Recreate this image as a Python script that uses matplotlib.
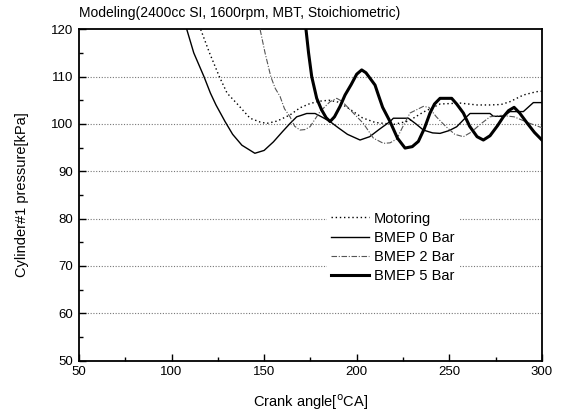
import numpy as np
import matplotlib
matplotlib.use('Agg')
import matplotlib.pyplot as plt
from matplotlib.ticker import MultipleLocator

plt.rcParams['font.family'] = ['Liberation Sans', 'DejaVu Sans']

# values (crank angle, pressure kPa)
motoring_ca = [112, 115.7, 120.5, 125.8, 130, 136, 142.4, 147.8, 151.4, 157, 164, 169.4,
               174.8, 180, 185, 190, 196, 203, 210, 220, 228, 236, 245, 255.8, 265, 272,
               278, 282.8, 290, 297, 300]
motoring_p = [125, 120, 115, 110, 106.5, 104, 101.2, 100.4, 100.1, 100.6, 101.9, 103.4,
              104.3, 104.8, 105, 104.6, 103.2, 101.3, 100.3, 99.9, 100.6, 102.5, 104.2, 104.4,
              104, 104, 104.1, 104.7, 106.1, 106.8, 106.9]

bmep0_ca = [104, 108.2, 112, 117.5, 121, 124, 128.9, 133, 138, 145, 150, 155, 160, 164,
            167.6, 170, 173, 177.5, 181, 185.6, 190, 195, 201.8, 207, 212, 218, 219.8,
            227.9, 232, 236, 241, 245, 250, 254, 258, 261.2, 272, 273.8, 279.2, 282.8, 290,
            295.4, 300]
bmep0_p = [126, 120, 115, 110, 106.5, 104, 100.5, 97.8, 95.5, 93.8, 94.4, 96.2, 98.4, 100.1,
           101.5, 101.8, 102.2, 102.2, 101.5, 100.5, 99.2, 97.8, 96.6, 97.3, 98.8, 100.5, 101.2,
           101.2, 100, 98.7, 98.1, 98.0, 98.6, 99.4, 101, 102.2, 102.2, 101.6, 101.6, 102.6, 102.6,
           104.5, 104.5]

bmep2_ca = [145, 147.8, 150.5, 153.6, 156, 158.6, 161, 164, 166.5, 169.4, 172, 174.8, 177.5,
            180.2, 185.6, 189.2, 192, 196.4, 203.6, 209, 214.4, 218, 221.6, 225, 228.8, 236,
            239, 243, 248, 253, 257.6, 262, 267, 272, 278, 285, 293.6, 300]
bmep2_p = [124, 120, 115, 110, 107.5, 105.8, 103.2, 101.5, 99.5, 98.7, 98.8, 99.4, 101,
           102.6, 104.7, 105.4, 104.8, 103, 100.1, 97, 95.9, 96, 96.8, 99.5, 102.3, 103.7,
           103.5, 101.5, 99.5, 97.8, 97.3, 98.3, 100, 101.5, 101.8, 101.5, 100.1, 99.2]

bmep5_ca = [171.8, 172.6, 174, 175.7, 178.4, 181, 183.5, 185.6, 188, 191, 193.7, 197, 200,
            202.7, 205, 209.9, 211.7, 214, 218, 222, 226.1, 230, 233.3, 236.5, 239.6, 242,
            245, 251.3, 254, 257.6, 261, 265, 268.4, 272, 276, 279.2, 282, 285, 288, 292,
            296, 300]
bmep5_p = [124, 120, 115, 110, 105.4, 103, 101.3, 100.5, 101.5, 103.7, 106.1, 108.3, 110.5,
           111.4, 110.8, 108.2, 106.1, 103.5, 100.5, 97, 94.9, 95.2, 96.3, 99, 102.3, 104.2,
           105.4, 105.4, 104.2, 102.3, 99.5, 97.3, 96.6, 97.5, 99.6, 101.5, 102.8, 103.5, 102.3,
           100.2, 98.2, 96.6]

fig = plt.figure(figsize=(5.68, 4.17), dpi=100)
ax = fig.add_axes([0.139, 0.135, 0.815, 0.795])

for yv in [60, 70, 80, 90, 100, 110]:
    ax.axhline(yv, color='#777777', lw=0.8, ls=(0, (1, 1.5)), zorder=1)

ax.plot(motoring_ca, motoring_p, color='black', lw=1.0, ls=(0, (1, 2)), label='Motoring', zorder=3)
ax.plot(bmep0_ca, bmep0_p, color='black', lw=1.0, label='BMEP 0 Bar', zorder=3)
ax.plot(bmep2_ca, bmep2_p, color='#555555', lw=0.8, ls=(0, (5, 1.5, 1, 1.5)), label='BMEP 2 Bar', zorder=3)
ax.plot(bmep5_ca, bmep5_p, color='black', lw=2.2, label='BMEP 5 Bar', zorder=3)

ax.set_xlim(50, 300)
ax.set_ylim(50, 120)
ax.xaxis.set_major_locator(MultipleLocator(50))
ax.xaxis.set_minor_locator(MultipleLocator(25))
ax.yaxis.set_major_locator(MultipleLocator(10))
ax.yaxis.set_minor_locator(MultipleLocator(5))
ax.tick_params(which='both', direction='in', labelsize=9.5, pad=4)
ax.tick_params(which='major', length=5, width=1)
ax.tick_params(which='minor', length=3, width=1)
for s in ax.spines.values():
    s.set_linewidth(1.3)

ax.set_xlabel('Crank angle[$^{\\rm o}$CA]', fontsize=10.5, labelpad=10)
ax.set_ylabel('Cylinder#1 pressure[kPa]', fontsize=10.5, labelpad=16)
ax.set_title('Modeling(2400cc SI, 1600rpm, MBT, Stoichiometric)', fontsize=10, loc='left', pad=9)

leg = ax.legend(loc='upper left', bbox_to_anchor=(0.52, 0.485), fontsize=10.5, frameon=True,
                framealpha=1, facecolor='white', edgecolor='none', handlelength=2.6,
                handletextpad=0.3, labelspacing=0.35, borderpad=0.3, fancybox=False)
leg.set_zorder(5)

fig.savefig('out.png', dpi=100)
